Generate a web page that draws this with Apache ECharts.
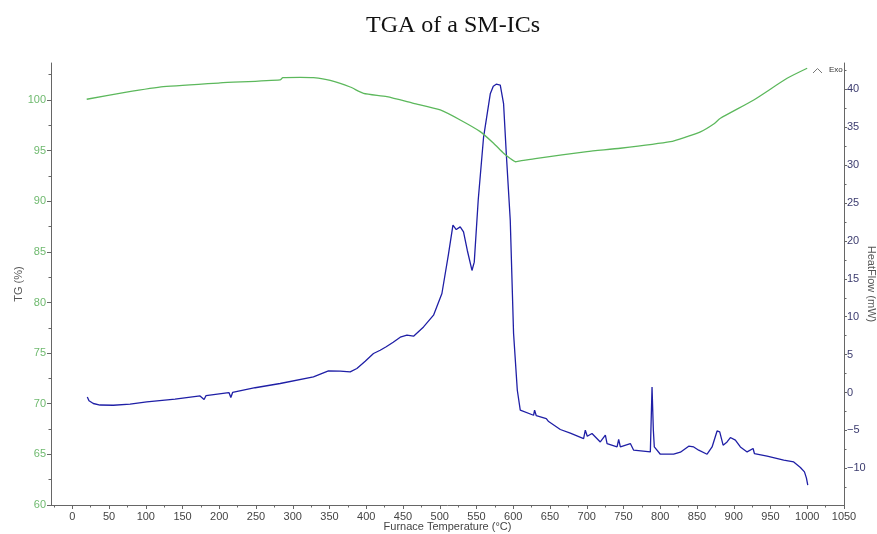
<!DOCTYPE html>
<html>
<head>
<meta charset="utf-8">
<script src="https://cdn.jsdelivr.net/npm/echarts@6/dist/echarts.min.js"></script>
<style>html,body{margin:0;padding:0;background:#fff}#c{width:877px;height:534px}</style>
</head>
<body>
<div id="c"></div>
<script>
// ---- data ----
const title = 'TGA of a SM-ICs';
const xName = 'Furnace Temperature (°C)';
const tgName = 'TG (%)';
const hfName = 'HeatFlow (mW)';

const xTicks = [0,50,100,150,200,250,300,350,400,450,500,550,600,650,700,750,800,850,900,950,1000,1050];
const xMinorTicks = [-25,25,75,125,175,225,275,325,375,425,475,525,575,625,675,725,775,825,875,925,975,1025];
const tgTicks = [60,65,70,75,80,85,90,95,100];
const tgMinorTicks = [62.5,67.5,72.5,77.5,82.5,87.5,92.5,97.5,102.5];
const hfTicks = [-10,-5,0,5,10,15,20,25,30,35,40];
const hfMinorTicks = [-12.5,-7.5,-2.5,2.5,7.5,12.5,17.5,22.5,27.5,32.5,37.5,42.5];

// TG curve (temperature °C, TG %)
const tgTemp = [19.6,71.8,123.9,201.1,282.8,286.5,310,328.1,350.9,378.1,396.2,428,464.3,500.6,527.8,555,573.2,586.8,595.9,602.7,609.5,632.3,700.3,745.7,813.8,836.5,854.6,872.7,881.8,927.2,972.6,999.9];
const tgVal  = [100.07,100.74,101.31,101.68,101.98,102.2,102.24,102.2,101.93,101.28,100.66,100.33,99.67,99.01,98.02,96.87,95.72,94.74,94.22,93.9,93.98,94.24,94.9,95.23,95.88,96.38,96.84,97.63,98.19,100,102.14,103.13];

// Heat flow curve (temperature °C, mW)
const hfTemp = [20.4,22.7,28.6,37.7,55.8,78.6,101.3,139.8,173.8,176.5,179.3,182,210.2,213.3,215.7,218.1,248.7,282.8,328.1,348.5,364.5,378.1,387.2,398.5,409.8,418.9,427.1,436.6,446.2,455.3,464.3,477.9,491.5,502.9,511.9,517.9,522.4,527.8,532.3,537.4,543.8,546.9,552.3,559.6,568.7,572.8,576.8,582.3,586.8,590.5,595.9,600.4,605.5,609.5,611.8,627.6,629,631.3,644.9,647.6,664,677.6,695.7,698,700.7,707.1,718.4,725.3,727.6,741.2,743.4,745.7,759.3,763.8,786.5,788.8,790.6,791.9,800.1,818.2,827.4,838.7,845.5,852.3,854.6,863.7,870.5,877.3,880.9,885.5,890.9,895.4,902.2,909,918.2,926.3,928.1,945.4,968,981.6,990.7,996.2,998.9,1000.7];
const hfVal  = [-0.58,-1.08,-1.45,-1.65,-1.68,-1.54,-1.24,-0.88,-0.45,-0.42,-0.92,-0.40,-0.05,-0.03,-0.66,0.01,0.63,1.19,2.06,2.85,2.81,2.72,3.17,4.13,5.15,5.58,6.04,6.64,7.30,7.56,7.43,8.65,10.2,13.06,18.3,22.07,21.5,21.85,21.19,18.77,16.1,17.2,25.4,33.7,39.4,40.4,40.67,40.54,38.1,31.5,22.7,7.78,0.3,-2.33,-2.43,-3.0,-2.34,-3.06,-3.43,-3.79,-4.88,-5.37,-6.07,-4.97,-5.77,-5.41,-6.52,-5.63,-6.73,-7.18,-6.2,-7.18,-6.73,-7.61,-7.84,0.74,-4.97,-7.18,-8.14,-8.14,-7.88,-7.08,-7.18,-7.61,-7.39,-8.14,-7.18,-5.07,-5.2,-6.95,-6.52,-5.94,-6.29,-7.18,-7.84,-7.39,-8.05,-8.40,-8.93,-9.16,-9.89,-10.47,-11.3,-12.23];

const tgData = tgTemp.map((t,i)=>[t,tgVal[i]]);
const hfData = hfTemp.map((t,i)=>[t,hfVal[i]]);

// ---- chart ----
const chart = echarts.init(document.getElementById('c'), null, {renderer:'canvas'});
const axisGray = '#666';
const labelFont = 'Liberation Sans, Arial, sans-serif';
const X_MIN = -29, X_MAX = 1050, TG_MIN = 60, TG_MAX = 103.65, HF_MIN = -14.84, HF_MAX = 43.47;

function minorAxis(base, vals, pos){
  return Object.assign({}, base, {
    position: pos,
    axisLine:{show:false, onZero:false},
    axisLabel:{show:false},
    axisTick:{show:true, length:2.5, customValues: vals, lineStyle:{color:axisGray}},
    splitLine:{show:false},
    name:''
  });
}

const xBase = {type:'value', min:X_MIN, max:X_MAX, gridIndex:0};
const tgBase = {type:'value', min:TG_MIN, max:TG_MAX, gridIndex:0};
const hfBase = {type:'value', min:HF_MIN, max:HF_MAX, gridIndex:0};

chart.setOption({
  animation:false,
  backgroundColor:'#fff',
  title:{
    text:title, left:361, top:9,
    textStyle:{fontFamily:'Liberation Serif, Times New Roman, serif', fontSize:24, fontWeight:'normal', color:'#111'}
  },
  grid:{left:51, right:33, top:63, bottom:29, containLabel:false, outerBoundsMode:'none'},
  xAxis:[
    Object.assign({}, xBase, {
      position:'bottom',
      name:xName, nameLocation:'middle', nameGap:16, nameMoveOverlap:false,
      nameTextStyle:{fontFamily:labelFont, fontSize:11, color:'#444'},
      axisLine:{show:true, onZero:false, lineStyle:{color:axisGray, width:1}},
      axisTick:{show:true, length:4, customValues:xTicks, lineStyle:{color:axisGray}},
      axisLabel:{show:true, customValues:xTicks, margin:6, fontFamily:labelFont, fontSize:11, color:'#444',
        formatter:v=>String(v)},
      splitLine:{show:false}
    }),
    minorAxis(xBase, xMinorTicks, 'bottom')
  ],
  yAxis:[
    Object.assign({}, tgBase, {
      position:'left',
      name:tgName, nameLocation:'middle', nameGap:27, nameRotate:90, nameMoveOverlap:false,
      nameTextStyle:{fontFamily:labelFont, fontSize:11, color:'#555'},
      axisLine:{show:true, onZero:false, lineStyle:{color:axisGray, width:1}},
      axisTick:{show:true, length:4, customValues:tgTicks, lineStyle:{color:axisGray}},
      axisLabel:{show:true, customValues:tgTicks, margin:5, fontFamily:labelFont, fontSize:11, color:'#6fba6f',
        formatter:v=>String(v)},
      splitLine:{show:false}
    }),
    Object.assign({}, hfBase, {
      position:'right',
      name:hfName, nameLocation:'middle', nameGap:22, nameRotate:-90, nameMoveOverlap:false,
      nameTextStyle:{fontFamily:labelFont, fontSize:11, color:'#555'},
      axisLine:{show:true, onZero:false, lineStyle:{color:axisGray, width:1}},
      axisTick:{show:true, length:3, customValues:hfTicks, lineStyle:{color:axisGray}},
      axisLabel:{show:true, customValues:hfTicks, margin:3, fontFamily:labelFont, fontSize:11, color:'#3b3b6e',
        formatter:v=> (v<0 ? '\u2212'+Math.abs(v) : String(v))},
      splitLine:{show:false}
    }),
    minorAxis(tgBase, tgMinorTicks, 'left'),
    minorAxis(hfBase, hfMinorTicks, 'right')
  ],
  series:[
    {
      name:'HeatFlow', type:'line', xAxisIndex:0, yAxisIndex:1, data:hfData,
      showSymbol:false, symbol:'none', smooth:false,
      lineStyle:{color:'#1f1fa6', width:1.3}
    },
    {
      name:'TG', type:'line', xAxisIndex:0, yAxisIndex:0, data:tgData,
      showSymbol:false, symbol:'none', smooth:0.2,
      lineStyle:{color:'#5cb85c', width:1.3}
    }
  ],
  graphic:[
    {type:'polyline', shape:{points:[[813,73],[817.5,68.5],[822,73]]}, style:{stroke:'#777', lineWidth:1, fill:null}},
    {type:'text', left:829, top:66, style:{text:'Exo', font:'8px Liberation Sans, Arial, sans-serif', fill:'#333'}}
  ]
});
</script>
</body>
</html>
